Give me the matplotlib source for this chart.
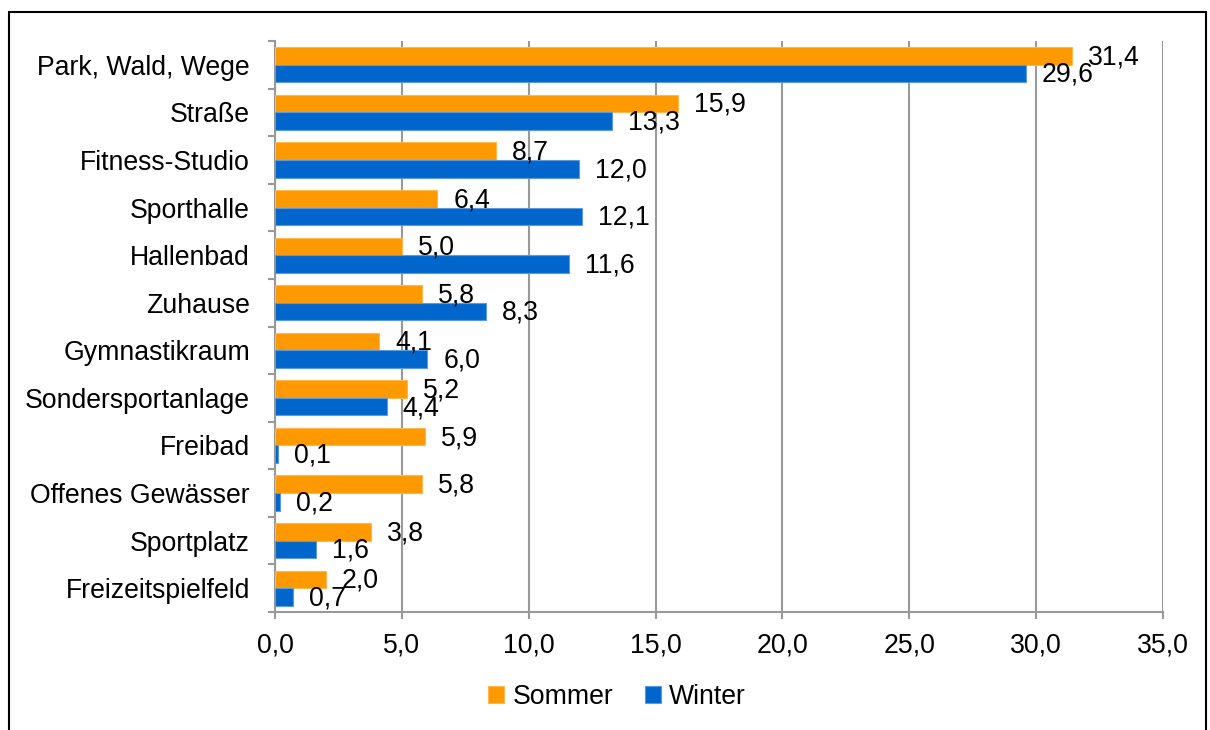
import matplotlib.pyplot as plt
from matplotlib.patches import Rectangle
from matplotlib.ticker import FixedLocator, FuncFormatter

categories = ['Park, Wald, Wege', 'Straße', 'Fitness-Studio', 'Sporthalle',
              'Hallenbad', 'Zuhause', 'Gymnastikraum', 'Sondersportanlage',
              'Freibad', 'Offenes Gewässer', 'Sportplatz', 'Freizeitspielfeld']
sommer = [31.4, 15.9, 8.7, 6.4, 5.0, 5.8, 4.1, 5.2, 5.9, 5.8, 3.8, 2.0]
winter = [29.6, 13.3, 12.0, 12.1, 11.6, 8.3, 6.0, 4.4, 0.1, 0.2, 1.6, 0.7]
x_ticks = [0, 5, 10, 15, 20, 25, 30, 35]

plt.rcParams['font.family'] = ['Liberation Sans', 'DejaVu Sans']
FS = 19.2
ORANGE = '#FF9900'
BLUE = '#0066CC'
GRID = '#999999'


def de(v):
    return f'{v:.1f}'.replace('.', ',')


fig = plt.figure(figsize=(12.1, 7.3), dpi=100)
ax = fig.add_axes([275 / 1210, 1 - 612 / 730, 888 / 1210, 571 / 730])

ys = list(range(len(categories)))
h = 0.37
b1 = ax.barh([y - h / 2 for y in ys], sommer, height=h, color=ORANGE,
             edgecolor='#FFB84D', linewidth=0.8, label='Sommer', zorder=3)
b2 = ax.barh([y + h / 2 for y in ys], winter, height=h, color=BLUE,
             edgecolor='#5A9BE0', linewidth=0.8, label='Winter', zorder=3)

for bars, vals, dy in ((b1, sommer, -1), (b2, winter, -1)):
    for bar, v in zip(bars, vals):
        ax.annotate(de(v), (v, bar.get_y() + bar.get_height() / 2),
                    xytext=(11.5, dy), textcoords='offset points',
                    ha='left', va='center', fontsize=FS, zorder=4)

ax.set_xlim(0, 35)
ax.set_ylim(len(categories) - 0.5, -0.5)
ax.xaxis.set_major_locator(FixedLocator(x_ticks))
ax.xaxis.set_major_formatter(FuncFormatter(lambda v, p: de(v)))
ax.set_yticks(ys)
ax.set_yticklabels(categories)
ax.yaxis.set_minor_locator(FixedLocator([y - 0.5 for y in ys] + [len(ys) - 0.5]))
ax.tick_params(axis='y', which='major', length=0, pad=18, labelsize=FS)
ax.tick_params(axis='y', which='minor', length=5, width=1.5, color=GRID, direction='out')
ax.tick_params(axis='x', which='major', length=5, width=1.5, color=GRID, pad=10, labelsize=FS)

ax.grid(axis='x', color=GRID, linewidth=1.5, zorder=0)
ax.set_axisbelow(True)
for s in ('top', 'right'):
    ax.spines[s].set_visible(False)
for s in ('left', 'bottom'):
    ax.spines[s].set_color(GRID)
    ax.spines[s].set_linewidth(1.5)

fig.legend(handles=[b1, b2], labels=['Sommer', 'Winter'], loc='center',
           bbox_to_anchor=(0.51, 1 - 697 / 730), ncol=2, frameon=False,
           fontsize=FS, handlelength=0.6, handleheight=0.6, handletextpad=0.3,
           columnspacing=1.2)

fig.patches.append(Rectangle((9 / 1210, -0.05), 1197 / 1210, 1.05 - 12 / 730,
                             transform=fig.transFigure, fill=False,
                             edgecolor='black', linewidth=1.5))

fig.savefig('out.png', dpi=100)
